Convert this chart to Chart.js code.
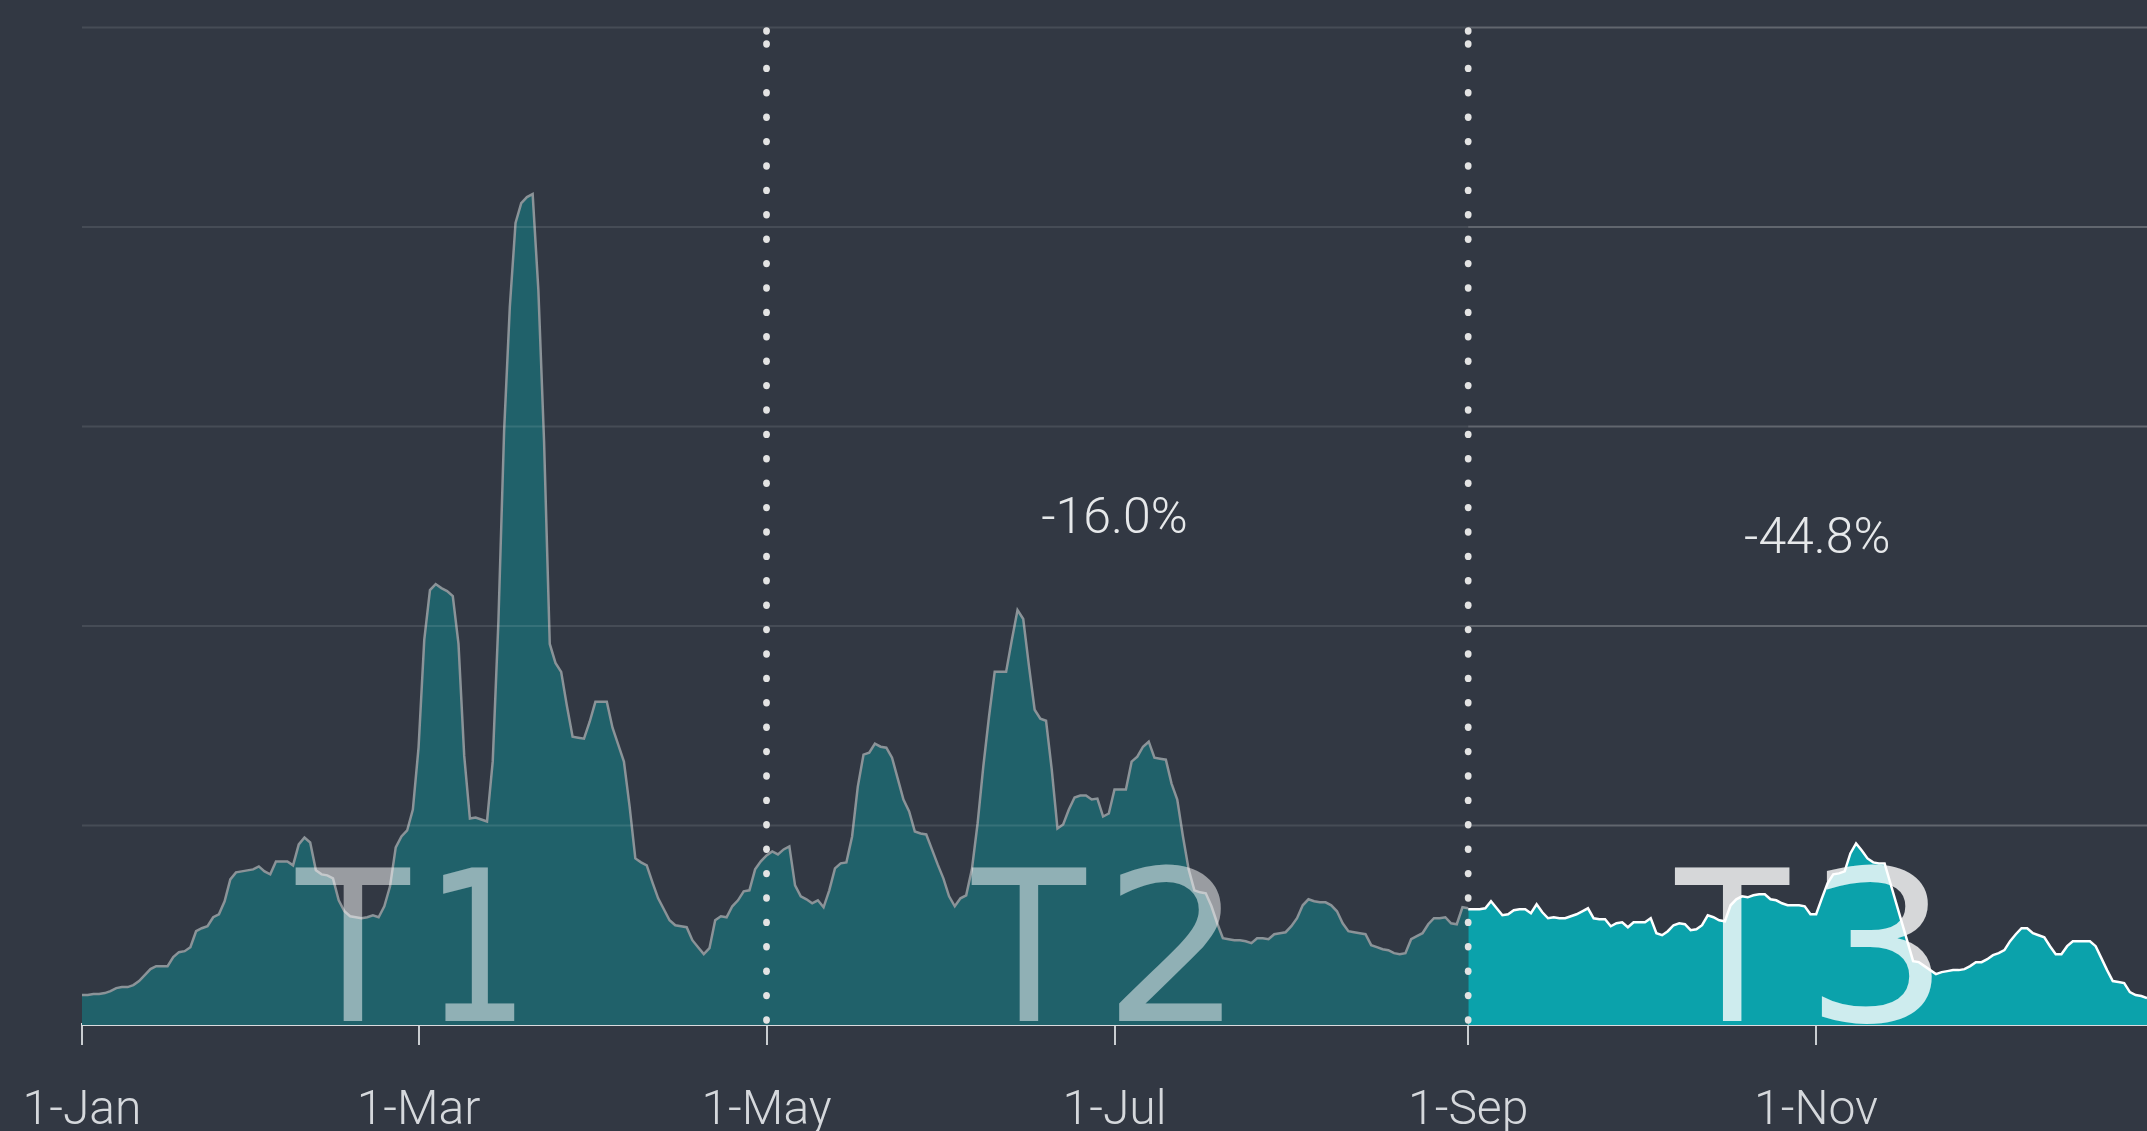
<!DOCTYPE html>
<html>
<head>
<meta charset="utf-8">
<script src="https://cdn.jsdelivr.net/npm/chart.js@4.4.1/dist/chart.umd.min.js"></script>
<style>
html,body{margin:0;padding:0;background:#323843;overflow:hidden}
#wrap{position:relative;width:2147px;height:1179px}
canvas{display:block}
</style>
</head>
<body>
<div id="wrap"><canvas id="c" width="2147" height="1179"></canvas></div>
<script>
// ---------- data ----------
const tickDays = [0, 59, 120, 181, 243, 304];
const tickLabels = ['1-Jan', '1-Mar', '1-May', '1-Jul', '1-Sep', '1-Nov'];
const periodBoundaryDays = [120, 243];
const gridValues = [20, 40, 60, 80, 100];

const periodLabels = ['T1', 'T2', 'T3'];
const periodLabelDays = [56.6, 177.9, 301.8];

const changeLabels = ['-16.0%', '-44.8%'];
const changeLabelDays = [181, 304.2];
const changeLabelValues = [49.3, 47.3];

const t12StartDay = 0;
const t12Values = [
  3.0,3.0,3.1,3.1,3.2,3.4,3.7,3.8,3.8,4.0,
  4.4,5.0,5.6,5.9,5.9,5.9,6.8,7.3,7.4,7.8,
  9.4,9.7,9.9,10.8,11.1,12.4,14.6,15.3,15.4,15.5,
  15.6,15.9,15.4,15.1,16.4,16.4,16.4,16.0,18.1,18.8,
  18.3,15.5,15.1,15.0,14.7,12.5,11.4,10.9,10.8,10.7,
  10.8,11.0,10.8,11.9,13.9,17.8,18.9,19.5,21.6,27.8,
  38.6,43.6,44.2,43.8,43.5,43.0,38.2,27.0,20.7,20.8,
  20.6,20.4,26.4,40.5,59.6,72.0,80.4,82.4,83.0,83.3,
  73.7,58.5,38.2,36.3,35.4,32.0,28.9,28.8,28.7,30.4,
  32.4,32.4,32.4,29.8,28.1,26.4,21.9,16.7,16.3,16.0,
  14.3,12.7,11.6,10.5,10.0,9.9,9.8,8.5,7.8,7.1,
  7.7,10.5,10.9,10.8,11.9,12.5,13.4,13.5,15.6,16.4,
  17.0,17.4,17.1,17.6,17.9,14.0,12.9,12.6,12.2,12.5,
  11.8,13.5,15.7,16.2,16.3,18.9,23.9,27.1,27.3,28.2,
  27.9,27.8,26.8,24.7,22.6,21.4,19.4,19.2,19.1,17.6,
  16.1,14.7,12.9,11.9,12.7,13.0,15.6,20.2,25.9,30.9,
  35.4,35.4,35.4,38.6,41.6,40.7,36.0,31.6,30.7,30.5,
  25.6,19.7,20.1,21.6,22.8,23.0,23.0,22.6,22.7,20.9,
  21.2,23.6,23.6,23.6,26.4,26.9,27.9,28.4,26.8,26.7,
  26.6,24.2,22.6,18.9,15.6,13.5,13.3,13.2,11.9,10.2,
  8.7,8.6,8.5,8.5,8.4,8.2,8.7,8.7,8.6,9.1,
  9.2,9.3,9.9,10.7,12.0,12.6,12.4,12.3,12.3,12.0,
  11.4,10.2,9.4,9.3,9.2,9.1,8.0,7.8,7.6,7.5,
  7.2,7.1,7.2,8.6,8.9,9.2,10.1,10.7,10.7,10.8,
  10.2,10.1,11.8,11.7
];

const t3StartDay = 243;
const t3Values = [
  11.6,11.6,11.6,11.7,12.4,11.7,11.0,11.1,11.5,11.6,
  11.6,11.2,12.1,11.3,10.7,10.8,10.7,10.7,10.9,11.1,
  11.4,11.7,10.7,10.6,10.6,9.9,10.2,10.3,9.8,10.3,
  10.3,10.3,10.7,9.2,9.0,9.4,10.0,10.2,10.1,9.5,
  9.6,10.0,11.0,10.8,10.5,10.4,12.0,12.6,12.9,12.8,
  13.0,13.1,13.1,12.6,12.5,12.2,12.0,12.0,12.0,11.9,
  11.1,11.1,12.7,14.2,15.1,15.2,15.4,17.2,18.2,17.5,
  16.7,16.3,16.2,16.2,null,null,null,null,6.4,6.3,
  5.9,5.5,5.1,5.3,5.4,5.5,5.5,5.6,5.9,6.3,
  6.3,6.6,7.0,7.2,7.5,8.4,9.1,9.7,9.7,9.2,
  9.0,8.8,7.9,7.1,7.1,7.9,8.4,8.4,8.4,8.4,
  7.9,6.7,5.5,4.4,4.3,4.2,3.3,3.0,2.9,2.7
];

// ---------- helpers ----------
const toPoints = (start, vals) => vals.map((v, i) => ({ x: start + i, y: v }));
const lastDay = t3StartDay + t3Values.length - 1;

function drawGlyph(ctx, ch, inkLeft, baseline, capH, inkW, family) {
  ctx.save();
  ctx.font = '200px ' + family;
  const capM = ctx.measureText('T');
  const scaleY = capH / capM.actualBoundingBoxAscent;
  const m = ctx.measureText(ch);
  const w = m.actualBoundingBoxLeft + m.actualBoundingBoxRight;
  const scaleX = inkW / w;
  ctx.translate(inkLeft, baseline);
  ctx.scale(scaleX, scaleY);
  ctx.textAlign = 'left';
  ctx.textBaseline = 'alphabetic';
  ctx.fillText(ch, m.actualBoundingBoxLeft, 0);
  ctx.restore();
}

const overlay = {
  id: 'overlay',
  afterDatasetsDraw(chart) {
    const { ctx, chartArea: ca, scales: { x, y } } = chart;
    ctx.save();
    // horizontal gridlines (darker before 1-Sep, lighter after)
    const splitX = x.getPixelForValue(periodBoundaryDays[1]);
    ctx.lineWidth = 2;
    gridValues.forEach(v => {
      const py = y.getPixelForValue(v);
      ctx.strokeStyle = 'rgba(255,255,255,0.10)';
      ctx.beginPath(); ctx.moveTo(ca.left, py); ctx.lineTo(splitX, py); ctx.stroke();
      ctx.strokeStyle = 'rgba(255,255,255,0.23)';
      ctx.beginPath(); ctx.moveTo(splitX, py); ctx.lineTo(ca.right, py); ctx.stroke();
    });

    // dotted period boundaries
    ctx.fillStyle = '#e3e3e3';
    periodBoundaryDays.forEach(d => {
      const px = x.getPixelForValue(d);
      const dots = [];
      for (let yy = ca.bottom - 5; yy > ca.top + 12; yy -= 24.4) dots.push(yy);
      dots.push(ca.top + 3.5);
      dots.forEach(yy => {
        ctx.beginPath(); ctx.ellipse(px, yy, 3.4, 3.7, 0, 0, Math.PI * 2); ctx.fill();
      });
    });

    // big period labels
    const capH = 153;
    const tW = 0.752 * capH, gap = 0.21 * capH;
    const digitW = [0.47 * capH, 0.68 * capH, 0.725 * capH];
    const alphas = [0.5, 0.5, 0.8];
    const base = y.getPixelForValue(0) - 4;
    periodLabels.forEach((lab, i) => {
      const cx = x.getPixelForValue(periodLabelDays[i]);
      const total = tW + gap + digitW[i];
      const left = cx - total / 2;
      ctx.fillStyle = 'rgba(255,255,255,' + alphas[i] + ')';
      drawGlyph(ctx, lab[0], left, base, capH, tW, '"DejaVu Sans"');
      drawGlyph(ctx, lab[1], left + tW + gap, base, capH, digitW[i], '"DejaVu Sans"');
    });

    // change annotations
    ctx.font = '300 50px Roboto';
    ctx.fillStyle = '#e6e8ea';
    ctx.textAlign = 'center';
    ctx.textBaseline = 'alphabetic';
    changeLabels.forEach((t, i) => {
      ctx.fillText(t, x.getPixelForValue(changeLabelDays[i]), y.getPixelForValue(changeLabelValues[i]));
    });
    ctx.restore();
  }
};

new Chart(document.getElementById('c'), {
  type: 'line',
  data: {
    datasets: [
      {
        label: 'T1-T2',
        data: toPoints(t12StartDay, t12Values),
        fill: 'origin',
        backgroundColor: '#20616a',
        borderColor: '#8b9398',
        borderWidth: 2.5,
        pointRadius: 0,
        tension: 0,
        spanGaps: true
      },
      {
        label: 'T3',
        data: toPoints(t3StartDay, t3Values),
        fill: 'origin',
        backgroundColor: '#0ba2ab',
        borderColor: '#ffffff',
        borderWidth: 2.5,
        pointRadius: 0,
        tension: 0,
        spanGaps: true
      }
    ]
  },
  options: {
    responsive: false,
    animation: false,
    events: [],
    layout: { padding: { left: 82, right: 0, top: 27.5, bottom: 0 } },
    plugins: { legend: { display: false }, tooltip: { enabled: false } },
    scales: {
      x: {
        type: 'linear',
        min: tickDays[0],
        max: lastDay,
        z: 1,
        afterBuildTicks: s => { s.ticks = tickDays.map(v => ({ value: v })); },
        ticks: {
          autoSkip: false, maxRotation: 0, minRotation: 0, padding: 3,
          color: '#d5d8dc',
          font: { family: 'Roboto', size: 48, weight: '300', lineHeight: 2.667 },
          callback: v => { const i = tickDays.indexOf(v); return i >= 0 ? tickLabels[i] : ''; }
        },
        grid: { drawOnChartArea: false, drawTicks: true, tickLength: 20, color: '#c9cdd1', lineWidth: 2 },
        border: { display: true, color: '#d9dcdf', width: 3 }
      },
      y: { display: false, min: 0, max: 100 }
    }
  },
  plugins: [overlay]
});
</script>
</body>
</html>
